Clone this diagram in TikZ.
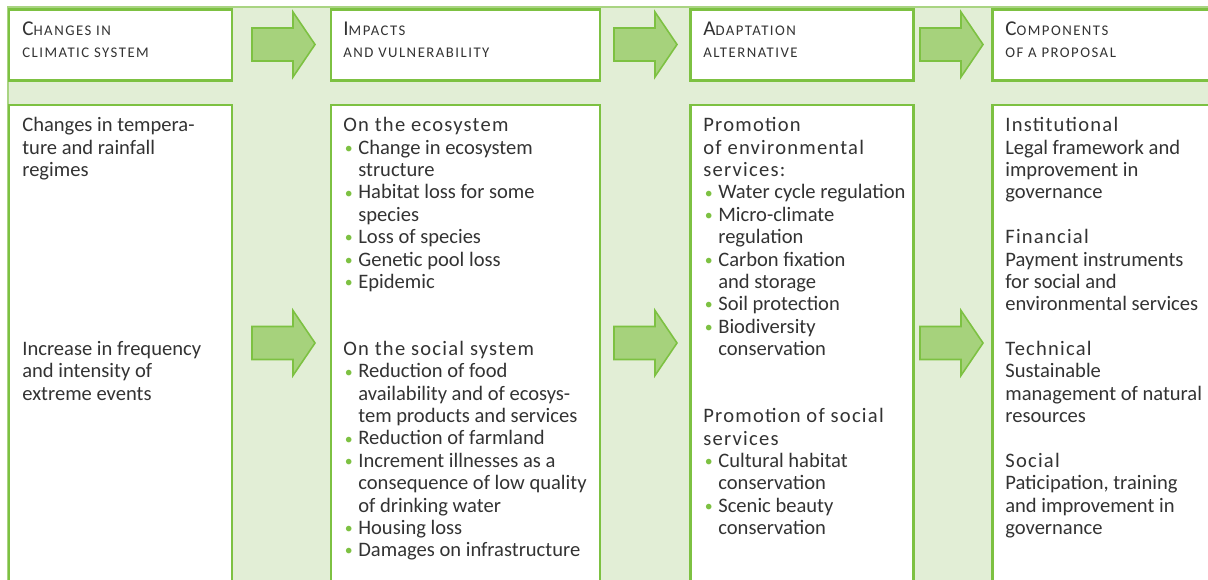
\documentclass[tikz,border=0pt]{standalone}
\usepackage{fontspec}
\setmainfont{Carlito}
\newfontfamily\headfont[LetterSpace=6]{Carlito}
\newfontfamily\capfont[LetterSpace=10]{Carlito}

\definecolor{linegreen}{HTML}{7DC142}
\definecolor{midgreen}{HTML}{A9D482}
\definecolor{arrowgreen}{HTML}{A6D27C}
\definecolor{bggreen}{HTML}{E2EED6}
\definecolor{textgray}{HTML}{333333}

\newcommand\st{\rule{0pt}{10pt}}
\newcommand\bu{\makebox[0.3cm][l]{\hspace*{0.03cm}\textcolor{linegreen}{\fontsize{9}{9}\selectfont\raisebox{0.5pt}{•}}}}
\newcommand\ii{\hspace*{0.3cm}}
\newcommand\hsc[2]{{\fontsize{12}{12}\selectfont #1}{\fontsize{8.4}{12}\selectfont #2}}

\begin{document}
\begin{tikzpicture}[x=0.02cm,y=-0.02cm,
		box/.style={draw=linegreen,line width=1.7pt,fill=white},
		blockarr/.style={draw=linegreen,line width=0.9pt,fill=arrowgreen},
		headtext/.style={anchor=north west,inner sep=0pt,align=left,text=textgray,font=\capfont\fontsize{11}{12.35}\selectfont},
		bodytext/.style={anchor=north west,inner sep=0pt,align=left,text=textgray,font=\fontsize{11.7}{12.73}\selectfont}]
		% frame
		\useasboundingbox (0,0) rectangle (1208,579);
		\clip (0,0) rectangle (1208,579);
		% background band
		\fill[bggreen] (8,7) rectangle (1230,620);
		\draw[midgreen,line width=0.6pt] (8,620) -- (8,7) -- (1230,7);
		% header boxes
		\foreach \a/\b in {9/232,331/600,690.5/913,992/1240}
		\draw[box] (\a,9.5) rectangle (\b,80.5);
		% body boxes
		\foreach \a/\b in {9/232,331/600,690.5/913,992/1240}
		\draw[box] (\a,105) rectangle (\b,640);
		% arrows
		\foreach \x in {252,614,920}
		\foreach \y in {44.5,343}
		\draw[blockarr] (\x,\y-16.5) -- (\x+41,\y-16.5) -- (\x+41,\y-32.5) -- (\x+63,\y)
			-- (\x+41,\y+32.5) -- (\x+41,\y+16.5) -- (\x,\y+16.5) -- cycle;
		% header texts
		\node[headtext] (hclim) at (22,17.4) {\st\hsc{C}{HANGES IN}\\\hsc{}{CLIMATIC SYSTEM}};
		\node[headtext] (himp) at (343,17.4) {\st\hsc{I}{MPACTS}\\\hsc{}{AND VULNERABILITY}};
		\node[headtext] (hadapt) at (703,17.4) {\st\hsc{A}{DAPTATION}\\\hsc{}{ALTERNATIVE}};
		\node[headtext] (hcomp) at (1005,17.4) {\st\hsc{C}{OMPONENTS}\\\hsc{}{OF A PROPOSAL}};
		% climatic system
		\node[bodytext] (clima) at (22,113.9) {\st Changes in tempera-\\ture and rainfall\\regimes};
		\node[bodytext] (climb) at (22,{113.9+10*22.37}) {\st Increase in frequency\\and intensity of\\extreme events};
		% impacts
		\node[bodytext] (ecos) at (343,113.9) {\st{\headfont On the ecosystem}\\\bu Change in ecosystem\\\ii structure\\\bu Habitat loss for some\\\ii species\\\bu Loss of species\\\bu Genetic pool loss\\\bu Epidemic};
		\node[bodytext] (socs) at (343,{113.9+10*22.37}) {\st{\headfont On the social system}\\\bu Reduction of food\\\ii availability and of ecosys-\\\ii tem products and services\\\bu Reduction of farmland\\\bu Increment illnesses as a\\\ii consequence of low quality\\\ii of drinking water\\\bu Housing loss\\\bu Damages on infrastructure};
		% adaptation
		\node[bodytext] (envserv) at (703,113.9) {\st{\headfont Promotion}\\{\headfont of environmental}\\{\headfont services:}\\\bu Water cycle regulation\\\bu Micro-climate\\\ii regulation\\\bu Carbon fixation\\\ii and storage\\\bu Soil protection\\\bu Biodiversity\\\ii conservation};
		\node[bodytext] (socserv) at (703,{113.9+13*22.37}) {\st{\headfont Promotion of social}\\{\headfont services}\\\bu Cultural habitat\\\ii conservation\\\bu Scenic beauty\\\ii conservation};
		% components
		\node[bodytext] (inst) at (1005,113.9) {\st{\headfont Institutional}\\Legal framework and\\improvement in\\governance};
		\node[bodytext] (fin) at (1005,{113.9+5*22.37}) {\st{\headfont Financial}\\Payment instruments\\for social and\\environmental services};
		\node[bodytext] (tech) at (1005,{113.9+10*22.37}) {\st{\headfont Technical}\\Sustainable\\management of natural\\resources};
		\node[bodytext] (soc) at (1005,{113.9+15*22.37}) {\st{\headfont Social}\\Paticipation, training\\and improvement in\\governance};
	\end{tikzpicture}
\end{document}
